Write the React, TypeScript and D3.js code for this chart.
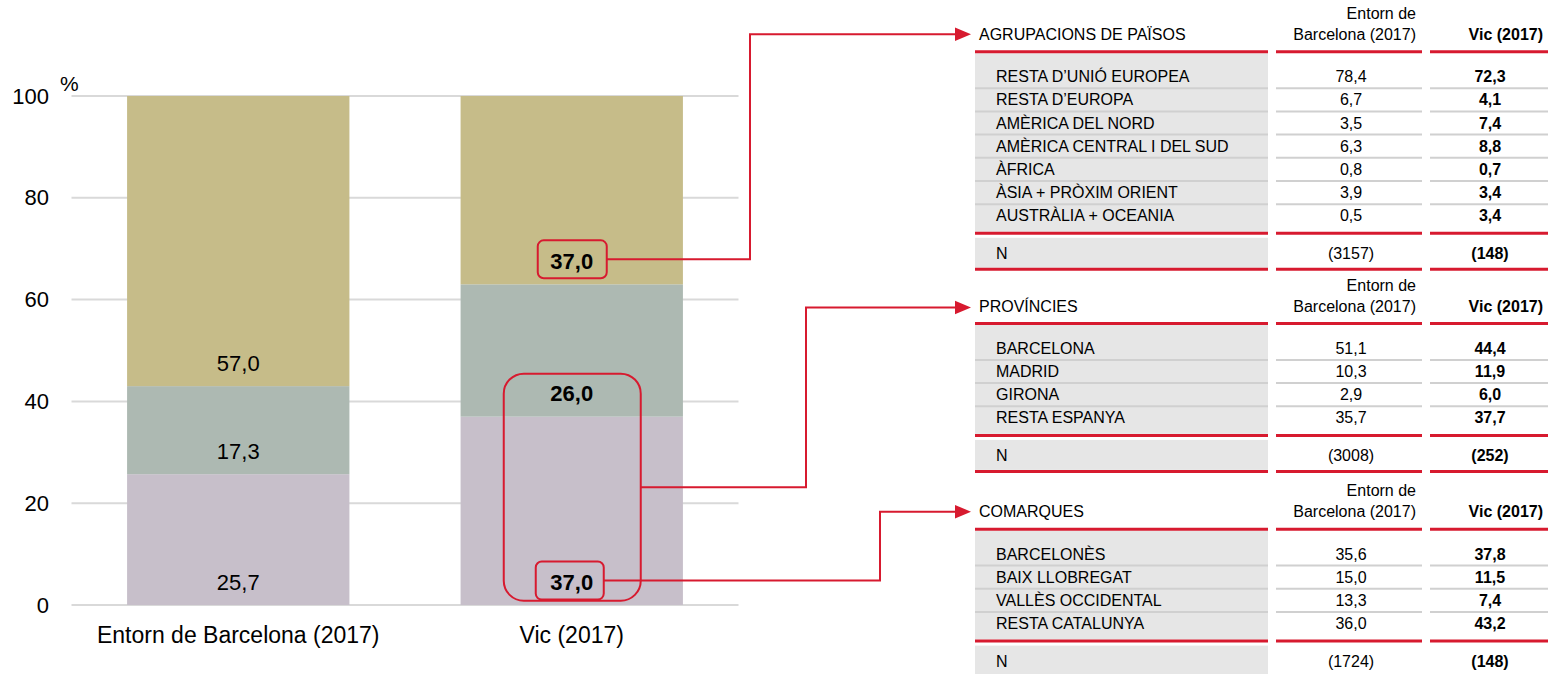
import React from "react";
import * as d3 from "d3";

// ---------- DATA ----------
const categories = ["Entorn de Barcelona (2017)", "Vic (2017)"];
const seriesNames = ["Catalunya", "Resta d'Espanya", "Estranger"];
const catalunyaValues = [25.7, 37.0];
const restaEspanyaValues = [17.3, 26.0];
const estrangerValues = [57.0, 37.0];
const yTicks = [0, 20, 40, 60, 80, 100];

const paisosTitle = "AGRUPACIONS DE PAÏSOS";
const paisosLabels = [
  "RESTA D’UNIÓ EUROPEA",
  "RESTA D’EUROPA",
  "AMÈRICA DEL NORD",
  "AMÈRICA CENTRAL I DEL SUD",
  "ÀFRICA",
  "ÀSIA + PRÒXIM ORIENT",
  "AUSTRÀLIA + OCEANIA",
];
const paisosEntorn = [78.4, 6.7, 3.5, 6.3, 0.8, 3.9, 0.5];
const paisosVic = [72.3, 4.1, 7.4, 8.8, 0.7, 3.4, 3.4];
const paisosN = [3157, 148];

const provinciesTitle = "PROVÍNCIES";
const provinciesLabels = ["BARCELONA", "MADRID", "GIRONA", "RESTA ESPANYA"];
const provinciesEntorn = [51.1, 10.3, 2.9, 35.7];
const provinciesVic = [44.4, 11.9, 6.0, 37.7];
const provinciesN = [3008, 252];

const comarquesTitle = "COMARQUES";
const comarquesLabels = ["BARCELONÈS", "BAIX LLOBREGAT", "VALLÈS OCCIDENTAL", "RESTA CATALUNYA"];
const comarquesEntorn = [35.6, 15.0, 13.3, 36.0];
const comarquesVic = [37.8, 11.5, 7.4, 43.2];
const comarquesN = [1724, 148];

const headerLine1 = "Entorn de";
const headerLine2 = "Barcelona (2017)";
const headerVic = "Vic (2017)";

// ---------- STYLE / LAYOUT ----------
const W = 1558;
const H = 674;
const FONT = "'Liberation Sans', Arial, Helvetica, sans-serif";
const RED = "#d71a2f";
const GRID = "#d9d9d9";
const TABLE_BG = "#e6e6e6";
const SEP = "#d0d0d0";
const segColors = ["#c7bfca", "#adb9b2", "#c6bc89"];

const locale = d3.formatLocale({ decimal: ",", thousands: ".", grouping: [3], currency: ["", "€"] });
const fmt1 = locale.format(".1f");

const x = d3.scaleBand<string>().domain(categories).range([71.5, 738.5]).paddingInner(1 / 3).paddingOuter(1 / 6);
const y = d3.scaleLinear().domain([0, 100]).range([605, 96]);

const stackInput = categories.map((c, i) => ({
  cat: c,
  [seriesNames[0]]: catalunyaValues[i],
  [seriesNames[1]]: restaEspanyaValues[i],
  [seriesNames[2]]: estrangerValues[i],
}));
const stacked = d3.stack<any>().keys(seriesNames)(stackInput);

// table geometry
const colLabelX0 = 975;
const colLabelX1 = 1268;
const col2X0 = 1276;
const col2X1 = 1422;
const col3X0 = 1430;
const col3X1 = 1548;
const rowStep = 23.2;

type TableDef = {
  title: string;
  labels: string[];
  entorn: number[];
  vic: number[];
  n: number[];
  top: number;
};

const tables: TableDef[] = [
  { title: paisosTitle, labels: paisosLabels, entorn: paisosEntorn, vic: paisosVic, n: paisosN, top: 34.3 },
  { title: provinciesTitle, labels: provinciesLabels, entorn: provinciesEntorn, vic: provinciesVic, n: provinciesN, top: 306 },
  { title: comarquesTitle, labels: comarquesLabels, entorn: comarquesEntorn, vic: comarquesVic, n: comarquesN, top: 511.7 },
];

function Arrow({ points }: { points: [number, number][] }) {
  const line = d3.line();
  const last = points[points.length - 1];
  const tipX = last[0];
  const ty = last[1];
  const shaft = points.slice(0, -1).concat([[tipX - 14, ty]]) as [number, number][];
  return (
    <g>
      <path d={line(shaft) || ""} fill="none" stroke={RED} strokeWidth={2} />
      <path d={`M${tipX - 16},${ty - 6.8}L${tipX},${ty}L${tipX - 16},${ty + 6.8}Z`} fill={RED} />
    </g>
  );
}

function Table({ t }: { t: TableDef }) {
  const T = t.top;
  const redTop = T + 17.5;
  const firstRow = T + 42.3;
  const rows = t.labels.map((_, i) => firstRow + i * rowStep);
  const lastRow = rows[rows.length - 1];
  const redMid = lastRow + 17.5;
  const nY = redMid + 20;
  const redBottom = nY + 16;
  const c2 = (col2X0 + col2X1) / 2 + 2;
  const c3 = (col3X0 + col3X1) / 2 + 1;
  const cols: [number, number][] = [
    [colLabelX0, colLabelX1],
    [col2X0, col2X1],
    [col3X0, col3X1],
  ];
  return (
    <g fontFamily={FONT} fontSize={16} fill="#000">
      {/* backgrounds */}
      <rect x={colLabelX0} y={redTop + 1.5} width={colLabelX1 - colLabelX0} height={redMid - redTop - 3} fill={TABLE_BG} />
      <rect x={colLabelX0} y={redMid + 4.5} width={colLabelX1 - colLabelX0} height={redBottom - redMid - 6} fill={TABLE_BG} />
      {/* row separators */}
      {rows.slice(0, -1).map((ry, i) =>
        cols.map(([a, b], j) => (
          <line key={`s${i}-${j}`} x1={a} x2={b} y1={ry + rowStep / 2} y2={ry + rowStep / 2} stroke={SEP} strokeWidth={2} />
        ))
      )}
      {/* red lines */}
      {[redTop, redMid, redBottom].map((ly, i) =>
        cols.map(([a, b], j) => (
          <line key={`r${i}-${j}`} x1={a} x2={b} y1={ly} y2={ly} stroke={RED} strokeWidth={3} />
        ))
      )}
      {/* header */}
      <text x={979} y={T} dominantBaseline="central">{t.title}</text>
      <text x={1416} y={T - 21} textAnchor="end" dominantBaseline="central">{headerLine1}</text>
      <text x={1416} y={T} textAnchor="end" dominantBaseline="central">{headerLine2}</text>
      <text x={1543} y={T} textAnchor="end" dominantBaseline="central" fontWeight="bold">{headerVic}</text>
      {/* rows */}
      {t.labels.map((lab, i) => (
        <g key={lab}>
          <text x={996} y={rows[i]} dominantBaseline="central">{lab}</text>
          <text x={c2} y={rows[i]} textAnchor="middle" dominantBaseline="central">{fmt1(t.entorn[i])}</text>
          <text x={c3} y={rows[i]} textAnchor="middle" dominantBaseline="central" fontWeight="bold">{fmt1(t.vic[i])}</text>
        </g>
      ))}
      <text x={996} y={nY} dominantBaseline="central">N</text>
      <text x={c2} y={nY} textAnchor="middle" dominantBaseline="central">{`(${t.n[0]})`}</text>
      <text x={c3} y={nY} textAnchor="middle" dominantBaseline="central" fontWeight="bold">{`(${t.n[1]})`}</text>
    </g>
  );
}

export default function App() {
  const bw = x.bandwidth();
  const labelOffset = 23;
  const vic = categories[1];
  const vicCx = (x(vic) as number) + bw / 2;

  const vicIdx = 1;
  const yVicKhakiLabel = y(stacked[2][vicIdx][0]) - labelOffset;
  const yVicTealLabel = y(stacked[1][vicIdx][0]) - labelOffset;
  const yVicPurpleLabel = y(stacked[0][vicIdx][0]) - labelOffset;

  const boxKhaki = { x0: vicCx - 34, x1: vicCx + 35, y0: yVicKhakiLabel - 21, y1: yVicKhakiLabel + 17 };
  const boxBig = { x0: vicCx - 68, x1: vicCx + 69, y0: yVicTealLabel - 20, y1: y(0) - 4.3 };
  const boxPurple = { x0: vicCx - 36, x1: vicCx + 32, y0: yVicPurpleLabel - 20.5, y1: yVicPurpleLabel + 17.6 };

  const arrowTip = 971;
  const bigMid = (boxBig.y0 + boxBig.y1) / 2;

  return (
    <svg width={W} height={H} style={{ position: "absolute", left: 0, top: 0, background: "#fff" }}>
      {yTicks.map((t) => (
        <line key={t} x1={x.range()[0]} x2={x.range()[1]} y1={y(t)} y2={y(t)} stroke={GRID} strokeWidth={2} />
      ))}
      {stacked.map((s, si) =>
        s.map((d, ci) => (
          <rect
            key={`${si}-${ci}`}
            x={x(categories[ci]) as number}
            width={bw}
            y={y(d[1])}
            height={y(d[0]) - y(d[1])}
            fill={segColors[si]}
          />
        ))
      )}
      <g fontFamily={FONT} fontSize={22} fill="#000">
        {yTicks.map((t) => (
          <text key={t} x={49} y={y(t)} textAnchor="end" dominantBaseline="central">{t}</text>
        ))}
        <text x={60} y={83} fontSize={21} dominantBaseline="central">%</text>
        {categories.map((c) => (
          <text key={c} x={(x(c) as number) + bw / 2} y={635} fontSize={23} textAnchor="middle" dominantBaseline="central">{c}</text>
        ))}
        {stacked.map((s, si) =>
          s.map((d, ci) => (
            <text
              key={`l${si}-${ci}`}
              x={(x(categories[ci]) as number) + bw / 2}
              y={y(d[0]) - labelOffset}
              textAnchor="middle"
              dominantBaseline="central"
              fontWeight={ci === 1 ? "bold" : "normal"}
            >
              {fmt1(d[1] - d[0])}
            </text>
          ))
        )}
      </g>
      <g fill="none" stroke={RED} strokeWidth={2}>
        <rect x={boxKhaki.x0} y={boxKhaki.y0} width={boxKhaki.x1 - boxKhaki.x0} height={boxKhaki.y1 - boxKhaki.y0} rx={6} />
        <rect x={boxBig.x0} y={boxBig.y0} width={boxBig.x1 - boxBig.x0} height={boxBig.y1 - boxBig.y0} rx={20} />
        <rect x={boxPurple.x0} y={boxPurple.y0} width={boxPurple.x1 - boxPurple.x0} height={boxPurple.y1 - boxPurple.y0} rx={6} />
      </g>
      <Arrow
        points={[
          [boxKhaki.x1, (boxKhaki.y0 + boxKhaki.y1) / 2],
          [750, (boxKhaki.y0 + boxKhaki.y1) / 2],
          [750, tables[0].top],
          [arrowTip, tables[0].top],
        ]}
      />
      <Arrow
        points={[
          [boxBig.x1, bigMid],
          [806, bigMid],
          [806, tables[1].top + 1.5],
          [arrowTip, tables[1].top + 1.5],
        ]}
      />
      <Arrow
        points={[
          [boxPurple.x1, (boxPurple.y0 + boxPurple.y1) / 2],
          [880, (boxPurple.y0 + boxPurple.y1) / 2],
          [880, tables[2].top],
          [arrowTip, tables[2].top],
        ]}
      />
      {tables.map((t) => (
        <Table key={t.title} t={t} />
      ))}
    </svg>
  );
}
